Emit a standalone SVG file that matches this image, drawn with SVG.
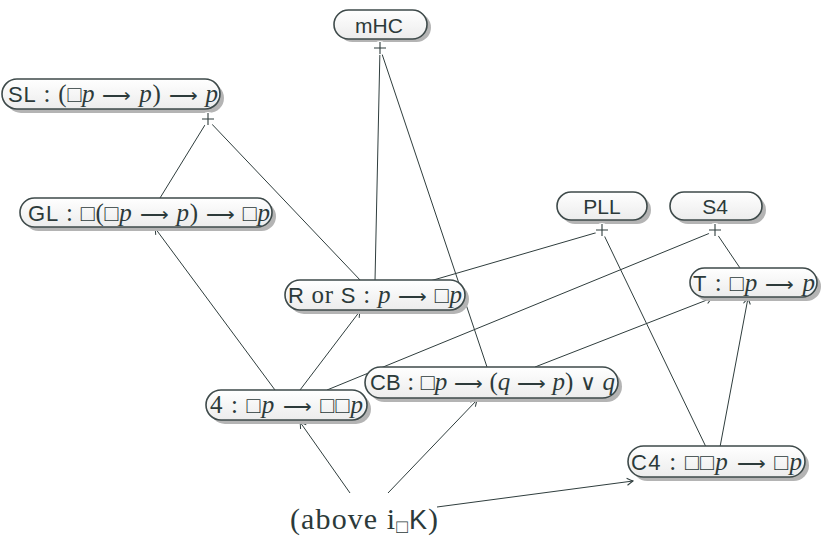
<svg xmlns="http://www.w3.org/2000/svg" width="821" height="537" viewBox="0 0 821 537">
<style>
.pill{fill:url(#g);stroke:#3e4a4a;stroke-width:1.6}
.sh{fill:#b4b4b4}
.e{stroke:#2f3d3d;stroke-width:1;fill:none}
.pc{fill:#fff;stroke:none}
.px{stroke:#2f3d3d;stroke-width:1.1}
text{fill:#2c3a3a;font-size:25px}
.sf{font-family:"Liberation Sans","DejaVu Sans",sans-serif;font-size:22px}
.n{font-family:"Liberation Sans","DejaVu Sans",sans-serif;font-size:21px;text-anchor:middle}
.rm{font-family:"Liberation Serif","DejaVu Serif",serif}
.it{font-family:"Liberation Serif","DejaVu Serif",serif;font-style:italic}
.sy{font-family:"DejaVu Sans",sans-serif;font-weight:200;font-size:23px}
.or{font-family:"DejaVu Sans",sans-serif;font-weight:200;font-size:22px}
.ar{font-family:"DejaVu Sans",sans-serif;font-weight:200;font-size:20px}
</style>
<defs>
<linearGradient id="g" x1="0" y1="0" x2="0" y2="1"><stop offset="0" stop-color="#ffffff"/><stop offset="1" stop-color="#ececec"/></linearGradient>
<marker id="a" viewBox="-8 -5 10 10" refX="0" refY="0" markerWidth="10" markerHeight="10" markerUnits="userSpaceOnUse" orient="auto"><path d="M-6,-3.5 Q-2,-1 0,0 Q-2,1 -6,3.5" fill="none" stroke="#2f3d3d" stroke-width="1"/></marker>
</defs>
<g id="connectors">
<line class="e" x1="208" y1="120" x2="160" y2="198"/>
<line class="e" x1="208" y1="120" x2="361" y2="281"/>
<line class="e" x1="380" y1="48" x2="375" y2="281"/>
<line class="e" x1="380" y1="48" x2="487" y2="367"/>
<line class="e" x1="602" y1="231" x2="430" y2="281"/>
<line class="e" x1="602" y1="231" x2="706" y2="447"/>
<line class="e" x1="715" y1="231" x2="740" y2="268"/>
<line class="e" x1="715" y1="231" x2="327" y2="390"/>
<line class="e" x1="275" y1="390" x2="155" y2="228" marker-end="url(#a)"/>
<line class="e" x1="300" y1="390" x2="360" y2="311" marker-end="url(#a)"/>
<line class="e" x1="535" y1="367" x2="712" y2="298" marker-end="url(#a)"/>
<line class="e" x1="720" y1="447" x2="748" y2="298" marker-end="url(#a)"/>
<line class="e" x1="350" y1="493" x2="300" y2="422" marker-end="url(#a)"/>
<line class="e" x1="388" y1="493" x2="477" y2="400" marker-end="url(#a)"/>
<line class="e" x1="437" y1="507" x2="633" y2="481" marker-end="url(#a)"/>
</g>
<g id="mHC">
<rect class="sh" x="338" y="13" width="93" height="29" rx="14.5"/>
<rect class="pill" x="334" y="10" width="93" height="29" rx="14.5"/>
<text class="n" x="379" y="33">mHC</text>
<circle class="pc" cx="380" cy="48" r="7"/>
<path class="px" d="M374,48H386M380,42V54"/>
</g>
<g id="SL">
<rect class="sh" x="6" y="83" width="218" height="30" rx="15"/>
<rect class="pill" x="2" y="79" width="218" height="30" rx="15"/>
<text x="8" y="102" textLength="210"><tspan class="sf">SL</tspan><tspan class="rm"> : (</tspan><tspan class="sy">□</tspan><tspan class="it">p</tspan><tspan class="rm"> </tspan><tspan class="ar">⟶</tspan><tspan class="rm"> </tspan><tspan class="it">p</tspan><tspan class="rm">) </tspan><tspan class="ar">⟶</tspan><tspan class="rm"> </tspan><tspan class="it">p</tspan></text>
<circle class="pc" cx="208" cy="119" r="7"/>
<path class="px" d="M202,119H214M208,113V125"/>
</g>
<g id="GL">
<rect class="sh" x="24" y="202" width="252" height="29" rx="14.5"/>
<rect class="pill" x="20" y="198" width="252" height="29" rx="14.5"/>
<text x="28" y="221" textLength="242"><tspan class="sf">GL</tspan><tspan class="rm"> : </tspan><tspan class="sy">□</tspan><tspan class="rm">(</tspan><tspan class="sy">□</tspan><tspan class="it">p</tspan><tspan class="rm"> </tspan><tspan class="ar">⟶</tspan><tspan class="rm"> </tspan><tspan class="it">p</tspan><tspan class="rm">) </tspan><tspan class="ar">⟶</tspan><tspan class="rm"> </tspan><tspan class="sy">□</tspan><tspan class="it">p</tspan></text>
</g>
<g id="PLL">
<rect class="sh" x="561" y="196" width="90" height="28" rx="14"/>
<rect class="pill" x="557" y="192" width="90" height="28" rx="14"/>
<text class="n" x="602" y="214">PLL</text>
<circle class="pc" cx="602" cy="230" r="7"/>
<path class="px" d="M596,230H608M602,224V236"/>
</g>
<g id="S4">
<rect class="sh" x="674" y="196" width="92" height="28" rx="14"/>
<rect class="pill" x="670" y="192" width="92" height="28" rx="14"/>
<text class="n" x="715" y="214">S4</text>
<circle class="pc" cx="715" cy="230" r="7"/>
<path class="px" d="M709,230H721M715,224V236"/>
</g>
<g id="RorS">
<rect class="sh" x="289" y="284" width="180" height="30" rx="15"/>
<rect class="pill" x="285" y="280" width="180" height="30" rx="15"/>
<text x="288" y="303" textLength="174"><tspan class="sf">R</tspan><tspan class="rm"> or </tspan><tspan class="sf">S</tspan><tspan class="rm"> : </tspan><tspan class="it">p</tspan><tspan class="rm"> </tspan><tspan class="ar">⟶</tspan><tspan class="rm"> </tspan><tspan class="sy">□</tspan><tspan class="it">p</tspan></text>
</g>
<g id="T">
<rect class="sh" x="694" y="272" width="127" height="29" rx="14.5"/>
<rect class="pill" x="690" y="268" width="127" height="29" rx="14.5"/>
<text x="693" y="291" textLength="122"><tspan class="sf">T</tspan><tspan class="rm"> : </tspan><tspan class="sy">□</tspan><tspan class="it">p</tspan><tspan class="rm"> </tspan><tspan class="ar">⟶</tspan><tspan class="rm"> </tspan><tspan class="it">p</tspan></text>
</g>
<g id="n4">
<rect class="sh" x="210" y="394" width="161" height="30" rx="15"/>
<rect class="pill" x="206" y="390" width="161" height="30" rx="15"/>
<text x="210" y="413" textLength="153"><tspan class="rm">4 : </tspan><tspan class="sy">□</tspan><tspan class="it">p</tspan><tspan class="rm"> </tspan><tspan class="ar">⟶</tspan><tspan class="rm"> </tspan><tspan class="sy">□□</tspan><tspan class="it">p</tspan></text>
</g>
<g id="CB">
<rect class="sh" x="369" y="371" width="253" height="31" rx="15.5"/>
<rect class="pill" x="365" y="367" width="253" height="31" rx="15.5"/>
<text x="370" y="390" textLength="245"><tspan class="sf">CB</tspan><tspan class="rm"> : </tspan><tspan class="sy">□</tspan><tspan class="it">p</tspan><tspan class="rm"> </tspan><tspan class="ar">⟶</tspan><tspan class="rm"> (</tspan><tspan class="it">q</tspan><tspan class="rm"> </tspan><tspan class="ar">⟶</tspan><tspan class="rm"> </tspan><tspan class="it">p</tspan><tspan class="rm">) </tspan><tspan class="or">∨</tspan><tspan class="rm"> </tspan><tspan class="it">q</tspan></text>
</g>
<g id="C4">
<rect class="sh" x="632" y="450" width="177" height="31" rx="15.5"/>
<rect class="pill" x="628" y="446" width="177" height="31" rx="15.5"/>
<text x="631" y="470" textLength="171"><tspan class="sf">C4</tspan><tspan class="rm"> : </tspan><tspan class="sy">□□</tspan><tspan class="it">p</tspan><tspan class="rm"> </tspan><tspan class="ar">⟶</tspan><tspan class="rm"> </tspan><tspan class="sy">□</tspan><tspan class="it">p</tspan></text>
</g>
<g id="above">
<text x="290" y="529" style="font-size:30px" textLength="148"><tspan class="rm">(above i</tspan><tspan class="sy" style="font-size:19px" dy="4">□</tspan><tspan class="sf" style="font-size:27px" dy="-4">K</tspan><tspan class="rm">)</tspan></text>
</g>
</svg>
